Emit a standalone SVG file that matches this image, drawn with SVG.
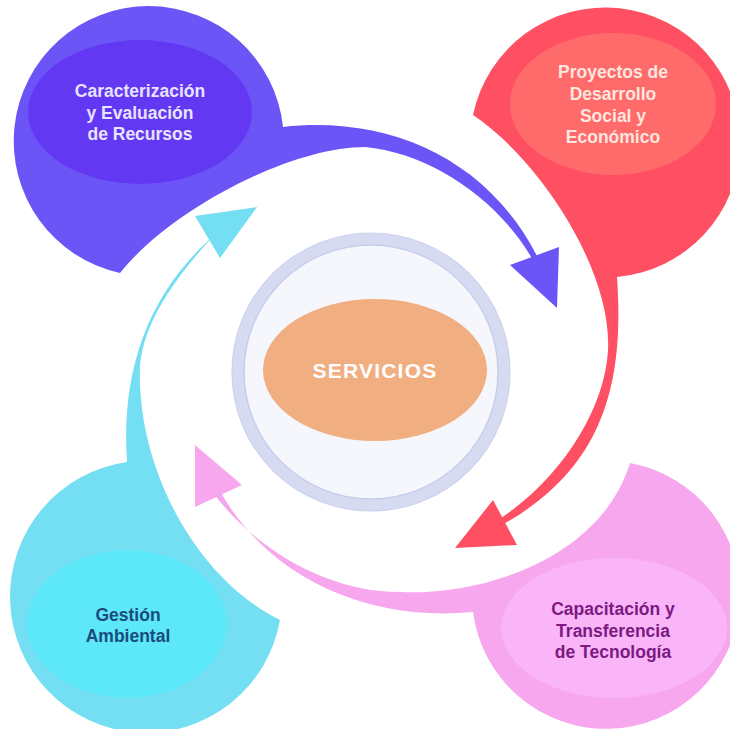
<svg xmlns="http://www.w3.org/2000/svg" width="730" height="729" viewBox="0 0 730 729">
  <style>
    .lbl { font-family: "Liberation Sans", Arial, sans-serif; font-weight: bold; font-size: 17.5px; text-anchor: middle; }
    .purple { fill: #6b55f7; }
    .red { fill: #fe5062; }
    .cyan { fill: #74def2; }
    .pink { fill: #f7a7ee; }
  </style>
  <rect width="730" height="729" fill="#ffffff"/>

  <g id="node-caracterizacion">
    <path class="purple" d="M 120 273 A 135 135 0 1 1 283 127 C 390 115 490 160 539 260 L 534 262 C 500 200 430 153 365 147 C 290 147 170 210 120 273 Z"/>
    <ellipse cx="140" cy="112" rx="112" ry="72" fill="#6238f2"/>
    <text class="lbl" fill="#e8e4ff"><tspan x="140" y="97">Caracterización</tspan><tspan x="140" y="118.5">y Evaluación</tspan><tspan x="140" y="140">de Recursos</tspan></text>
  </g>

  <g id="node-proyectos">
    <path class="red" d="M 473 115 A 135 135 0 1 1 617 277 C 625 390 600 470 502 525 L 498 520 C 560 480 605 410 608 350 C 612 270 540 160 473 115 Z"/>
    <ellipse cx="613" cy="104" rx="103" ry="71" fill="#ff6a6a"/>
    <text class="lbl" fill="#ffe6de"><tspan x="613" y="78">Proyectos de</tspan><tspan x="613" y="100">Desarrollo</tspan><tspan x="613" y="122">Social y</tspan><tspan x="613" y="143">Económico</tspan></text>
  </g>

  <g id="node-gestion">
    <path class="cyan" d="M 280 620 A 136 136 0 1 1 127 462 C 121 370 148 295 211 238 L 215 234 C 178 275 145 318 140 365 C 136 460 190 575 280 620 Z"/>
    <ellipse cx="127" cy="624" rx="100" ry="74" fill="#5de8f9"/>
    <text class="lbl" fill="#1b4b7c"><tspan x="128" y="621">Gestión</tspan><tspan x="128" y="642">Ambiental</tspan></text>
  </g>

  <g id="node-capacitacion">
    <path class="pink" d="M 630 463 A 134 134 0 1 1 473 612 C 370 622 270 580 220 491 L 214 494 C 258 552 330 592 400 592 C 480 596 600 560 630 463 Z"/>
    <ellipse cx="614" cy="628" rx="113" ry="70" fill="#fab4f8"/>
    <text class="lbl" fill="#7a1a82"><tspan x="613" y="615">Capacitación y</tspan><tspan x="613" y="637">Transferencia</tspan><tspan x="613" y="658">de Tecnología</tspan></text>
  </g>

  <g id="connectors">
    <polygon class="purple" points="510,265 559,247 557,308"/>
    <polygon class="red" points="455,548 493,500 517,545"/>
    <polygon class="cyan" points="195,216 257,207 220,258"/>
    <polygon class="pink" points="195,445 242,485 195,507"/>
  </g>

  <g id="node-servicios">
    <circle cx="371" cy="372" r="133" fill="#f5f7fd" stroke="#d7dbf2" stroke-width="12"/>
    <circle cx="371" cy="372" r="139" fill="none" stroke="#cdd2ee" stroke-width="1.2"/>
    <circle cx="371" cy="372" r="127" fill="none" stroke="#c8cdeb" stroke-width="1.5"/>
    <ellipse cx="375" cy="370" rx="112" ry="71" fill="#f1ae81"/>
    <text x="375" y="378" font-family="'Liberation Sans', Arial, sans-serif" font-weight="bold" font-size="21" letter-spacing="1.2" text-anchor="middle" fill="#ffffff">SERVICIOS</text>
  </g>
</svg>
